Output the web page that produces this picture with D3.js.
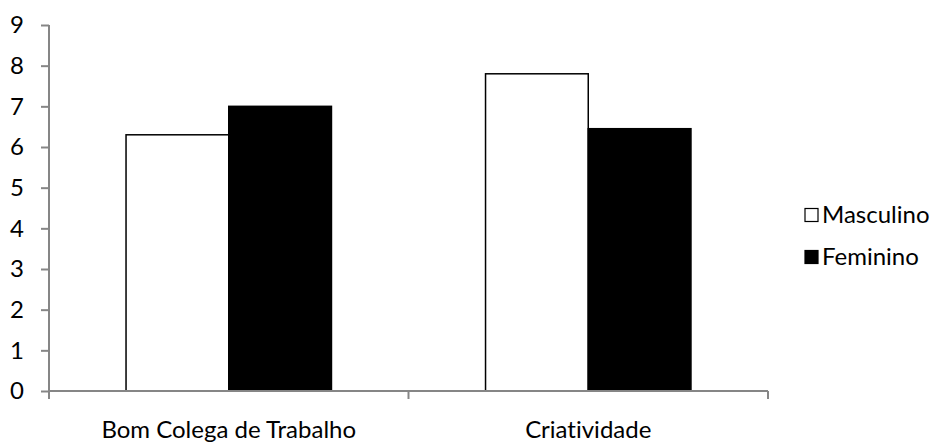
<!DOCTYPE html>
<html>
<head>
<meta charset="utf-8">
<script src="https://cdn.jsdelivr.net/npm/d3@7"></script>
<style>
  body { margin: 0; background: #fff; }
  text { font-family: Lato, "Open Sans", sans-serif; fill: #000; font-variant-ligatures: none; }
</style>
</head>
<body>
<svg id="chart" width="939" height="444"></svg>
<script>
const categories = ["Bom Colega de Trabalho", "Criatividade"];
const seriesNames = ["Masculino", "Feminino"];
const masculino = [6.3, 7.8];
const feminino = [7.0, 6.45];
const yTicks = [0, 1, 2, 3, 4, 5, 6, 7, 8, 9];

const svg = d3.select("#chart");
const margin = { left: 49, right: 171, top: 25, bottom: 53 };
const W = 939, H = 444;
const axisColor = "#868686";
const fontSize = 24;

const x0 = d3.scaleBand().domain(categories)
  .range([margin.left, W - margin.right]).paddingInner(0).paddingOuter(0);
const y = d3.scaleLinear().domain([0, 9]).range([H - margin.bottom, margin.top]);

// bars within each category: gap width 150% of a bar
const barW = x0.bandwidth() / 3.5;
const x1 = d3.scaleBand().domain(seriesNames).range([0, 2 * barW]);

const series = [
  { name: "Masculino", values: masculino, fill: "#fff", stroke: "#000" },
  { name: "Feminino", values: feminino, fill: "#000", stroke: "#000" }
];

series.forEach(s => {
  svg.append("g").selectAll("rect")
    .data(categories.map((c, i) => ({ c, v: s.values[i] })))
    .join("rect")
    .attr("x", d => x0(d.c) + (x0.bandwidth() - 2 * barW) / 2 + x1(s.name))
    .attr("y", d => y(d.v))
    .attr("width", x1.bandwidth())
    .attr("height", d => y(0) - y(d.v))
    .attr("fill", s.fill)
    .attr("stroke", s.stroke)
    .attr("stroke-width", 1.5);
});

// y axis
const yAxis = svg.append("g")
  .attr("transform", `translate(${margin.left},0)`)
  .call(d3.axisLeft(y).tickValues(yTicks).tickSize(8).tickPadding(17).tickFormat(d3.format("d")));
yAxis.select(".domain").attr("stroke", axisColor).attr("stroke-width", 2).attr("d", `M0,${y(9)}V${y(0)}`);
yAxis.selectAll(".tick line").attr("stroke", axisColor).attr("stroke-width", 2);
yAxis.selectAll(".tick text").attr("font-size", fontSize).attr("font-family", "Lato, sans-serif").attr("fill", "#000");

// x axis with tick marks at category boundaries
const xg = svg.append("g").attr("transform", `translate(0,${y(0)})`);
xg.append("line").attr("x1", margin.left).attr("x2", W - margin.right)
  .attr("stroke", axisColor).attr("stroke-width", 2);
const bounds = [margin.left, ...categories.map(c => x0(c) + x0.bandwidth())];
xg.selectAll(".bt").data(bounds).join("line")
  .attr("x1", d => d).attr("x2", d => d).attr("y1", 0).attr("y2", 8)
  .attr("stroke", axisColor).attr("stroke-width", 2);
xg.selectAll(".cl").data(categories).join("text")
  .attr("x", d => x0(d) + x0.bandwidth() / 2)
  .attr("y", 47)
  .attr("text-anchor", "middle")
  .attr("font-size", fontSize)
  .text(d => d);

// legend
const legend = svg.append("g");
series.forEach((s, i) => {
  const ly = 215 + i * 42;
  legend.append("rect").attr("x", 805).attr("y", ly - 6.5).attr("width", 13).attr("height", 13)
    .attr("fill", s.fill).attr("stroke", "#000").attr("stroke-width", 1.2);
  legend.append("text").attr("x", 822).attr("y", ly).attr("dy", "0.35em")
    .attr("font-size", fontSize).text(s.name);
});
</script>
</body>
</html>
